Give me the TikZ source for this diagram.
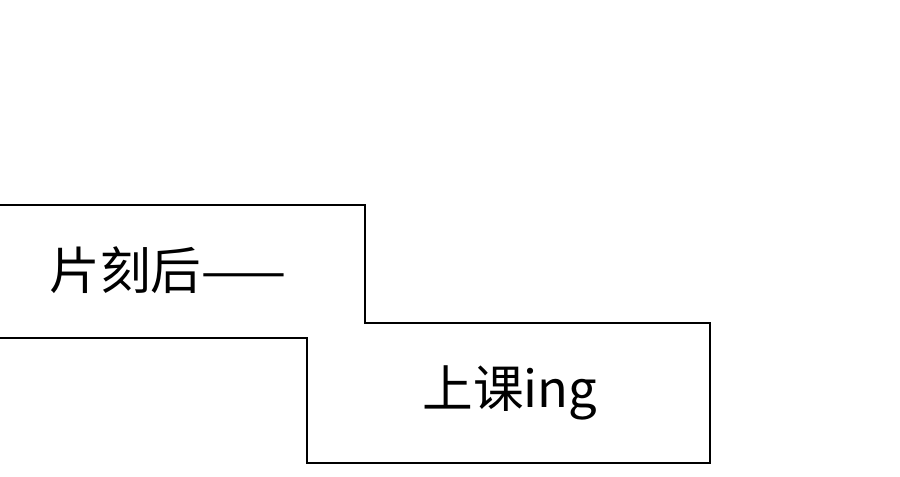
\documentclass[tikz,border=0pt]{standalone}
\usepackage{fontspec}
\newfontfamily\cjk{Noto Sans CJK SC}
\begin{document}
\begin{tikzpicture}[x=0.75pt,y=-0.75pt,
  caption/.style={font=\cjk\fontsize{38}{40}\selectfont,inner sep=0pt}]
\useasboundingbox (0,0) rectangle (900,477);
% outline of the two joined caption boxes
\draw[line width=2.2pt,line join=miter] (-10,205) -- (365,205) -- (365,323) -- (710,323)
  -- (710,463) -- (307,463) -- (307,338) -- (-10,338);
\node[caption] (later) at (168,270) {片刻后——};
\node[caption] (class) at (510,393) {上课ing};
\end{tikzpicture}
\end{document}
